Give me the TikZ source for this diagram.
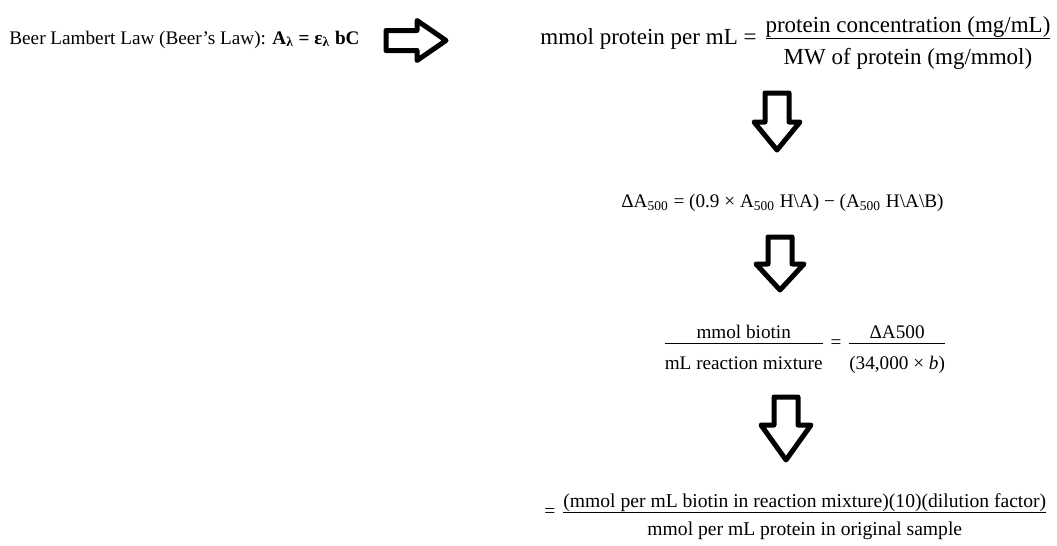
\documentclass[tikz,border=0pt]{standalone}
\usepackage{amsmath}
\usepackage{fontspec}
\setmainfont{Liberation Serif}
\usepackage{tikz}
\usetikzlibrary{positioning}

\newcommand{\eqsign}{\mathrel{\text{=}}}
% fraction with the numerator set low and the denominator pushed down
\newcommand{\wfrac}[3][1em]{\dfrac{\raisebox{-0.2em}[\height][0pt]{#2}}{\rule{0pt}{#1}#3}}

\begin{document}
\begin{tikzpicture}[
    x=0.5pt, y=-0.5pt,
    eqn/.style={inner sep=0pt, font=\fontsize{9.6}{11}\selectfont},
    blockarrow/.style={draw, line width=2.5pt, line join=round, fill=white}
]
\useasboundingbox (0,0) rectangle (1057,546);

% Beer-Lambert law and the first step
\node[eqn, anchor=base west] (beer) at (9,44)
    {Beer Lambert Law (Beer's Law): \textbf{A\textsubscript{λ} = ε\textsubscript{λ} bC}};
\draw[blockarrow] (386,30.5) -- (417,30.5) -- (417,20.5) -- (446,40.5)
    -- (417,60.5) -- (417,50.5) -- (386,50.5) -- cycle;

\node[eqn, font=\fontsize{11.5}{13}\selectfont, anchor=base west] (protconc) at (540,44)
    {mmol protein per mL $\eqsign \wfrac{\text{protein concentration (mg/mL)}}{\text{MW of protein (mg/mmol)}}$};

\draw[blockarrow] (765,93) -- ++(24,0) -- ++(0,29) -- ++(11,0) -- ++(-23,28)
    -- ++(-23,-28) -- ++(11,0) -- cycle;

\node[eqn, anchor=base west] (deltaA) at (621,207)
    {ΔA\textsubscript{500} = (0.9 × A\textsubscript{500} H\textbackslash A) − (A\textsubscript{500} H\textbackslash A\textbackslash B)};

\draw[blockarrow] (768,237) -- ++(24,0) -- ++(0,27) -- ++(12,0) -- ++(-24,26)
    -- ++(-24,-26) -- ++(12,0) -- cycle;

\node[eqn, anchor=base west] (biotin) at (662,348)
    {$\wfrac[1.25em]{\text{mmol biotin}}{\text{mL reaction mixture}} \eqsign
      \wfrac[1.25em]{\text{ΔA500}}{\text{(34,000 × \textit{b})}}$};

\draw[blockarrow] (774,397) -- ++(24,0) -- ++(0,28) -- ++(13,0) -- ++(-25,35)
    -- ++(-25,-35) -- ++(13,0) -- cycle;

\node[eqn, font=\fontsize{9.8}{11}\selectfont, anchor=base west] (ratio) at (544,517)
    {$\eqsign \wfrac[1.05em]{\text{(mmol per mL biotin in reaction mixture)(10)(dilution factor)}}%
      {\text{mmol per mL protein in original sample}}$};
\end{tikzpicture}
\end{document}
